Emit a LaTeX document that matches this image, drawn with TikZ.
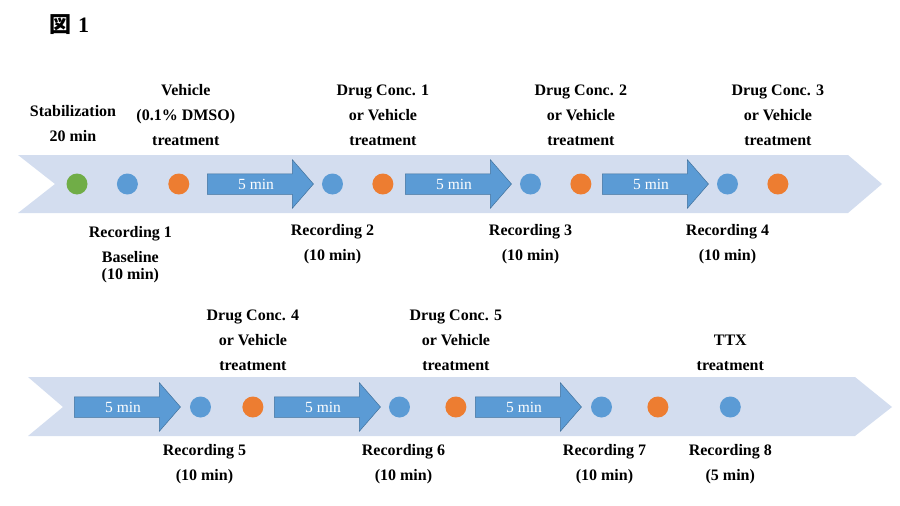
\documentclass[tikz,border=0pt]{standalone}
\usepackage{fontspec}
\setmainfont{Liberation Serif}
\newfontfamily\cjkfont{Noto Sans CJK JP}
\usetikzlibrary{positioning, shapes.arrows}
\definecolor{BandBlue}{HTML}{D3DDEF}
\definecolor{StepBlue}{HTML}{5B9BD5}
\definecolor{StepEdge}{HTML}{41719C}
\definecolor{DotOrange}{HTML}{ED7D31}
\definecolor{DotGreen}{HTML}{70AD47}

\begin{document}
\begin{tikzpicture}[x=1pt, y=-1pt,
    band/.style={fill=BandBlue, draw=none},
    wait/.style={single arrow, single arrow head extend=14pt, single arrow tip angle=98, minimum height=106pt, inner xsep=2pt, inner ysep=4.5pt, text height=11pt, text depth=0pt, fill=StepBlue, draw=StepEdge, line width=0.5pt, text=white, font=\fontsize{15.5}{18}\selectfont},
    dot/.style={circle, minimum size=21pt, inner sep=0pt},
    rec/.style={dot, fill=StepBlue},
    drug/.style={dot, fill=DotOrange},
    stab/.style={dot, fill=DotGreen},
    lbl/.style={align=center, inner sep=0pt, font=\bfseries\fontsize{16}{25}\selectfont}
]
\useasboundingbox (0,0) rectangle (900,506);

% Title
\node[anchor=west, inner sep=0pt, font=\bfseries\fontsize{22}{24}\selectfont] (title) at (49,25) {{\cjkfont\bfseries 図}\hspace{7pt}1};

% Timeline bands
\fill[band] (18,155) -- (848,155) -- (882,184) -- (848,213) -- (18,213) -- (55,184) -- cycle;
\fill[band] (28,377) -- (855,377) -- (892,407) -- (855,436) -- (28,436) -- (63,407) -- cycle;

% Row 1
\node[stab] (g1) at (77,184) {};
\node[rec, right=29pt of g1] (r1) {};
\node[drug, right=30pt of r1] (o1) {};
\node[wait] (a1) at (256,184) {5 min};
\node[rec, right=8pt of a1] (r2) {};
\node[drug, right=29pt of r2] (o2) {};
\node[wait] (a2) at (454,184) {5 min};
\node[rec, right=8pt of a2] (r3) {};
\node[drug, right=29pt of r3] (o3) {};
\node[wait] (a3) at (651,184) {5 min};
\node[rec, right=8pt of a3] (r4) {};
\node[drug, right=29pt of r4] (o4) {};

% Row 2
\node[wait] (a4) at (123,407) {5 min};
\node[rec, right=9pt of a4] (r5) {};
\node[drug, right=31pt of r5] (o5) {};
\node[wait] (a5) at (323,407) {5 min};
\node[rec, right=8pt of a5] (r6) {};
\node[drug, right=35pt of r6] (o6) {};
\node[wait] (a6) at (524,407) {5 min};
\node[rec, right=9pt of a6] (r7) {};
\node[drug, right=35pt of r7] (o7) {};
\node[rec, right=51pt of o7] (r8) {};

% Labels above row 1
\node[lbl, above=31pt of g1, xshift=-4pt] (stabtxt) {Stabilization\\20 min};
\node[lbl, above=27.5pt of o1, xshift=7pt] (vehtxt) {Vehicle\\(0.1\% DMSO)\\treatment};
\node[lbl, above=27.5pt of o2] (d1txt) {Drug Conc. 1\\or Vehicle\\treatment};
\node[lbl, above=27.5pt of o3] (d2txt) {Drug Conc. 2\\or Vehicle\\treatment};
\node[lbl, above=27.5pt of o4] (d3txt) {Drug Conc. 3\\or Vehicle\\treatment};

% Labels below row 1
\node[lbl, below=31pt of r1, xshift=3pt] (rec1txt) {Recording 1\\Baseline\\[-8pt](10 min)};
\node[lbl, below=29.5pt of r2] (rec2txt) {Recording 2\\(10 min)};
\node[lbl, below=29.5pt of r3] (rec3txt) {Recording 3\\(10 min)};
\node[lbl, below=29.5pt of r4] (rec4txt) {Recording 4\\(10 min)};

% Labels above row 2
\node[lbl, above=25pt of o5] (d4txt) {Drug Conc. 4\\or Vehicle\\treatment};
\node[lbl, above=25pt of o6] (d5txt) {Drug Conc. 5\\or Vehicle\\treatment};
\node[lbl, above=25pt of r8] (ttxtxt) {TTX\\treatment};

% Labels below row 2
\node[lbl, below=26pt of r5, xshift=4pt] (rec5txt) {Recording 5\\(10 min)};
\node[lbl, below=26pt of r6, xshift=4pt] (rec6txt) {Recording 6\\(10 min)};
\node[lbl, below=26pt of r7, xshift=3pt] (rec7txt) {Recording 7\\(10 min)};
\node[lbl, below=26pt of r8] (rec8txt) {Recording 8\\(5 min)};

\end{tikzpicture}
\end{document}
